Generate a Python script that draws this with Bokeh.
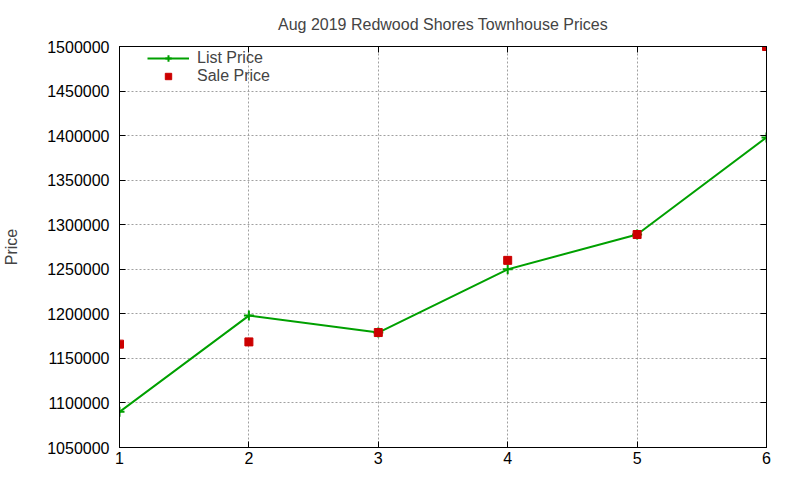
from bokeh.plotting import figure
from bokeh.models import LinearAxis, Legend, LegendItem, FixedTicker, Range1d, NumeralTickFormatter
from bokeh.embed import file_html
from bokeh.resources import INLINE

# data
list_x = [1, 2, 3, 4, 5, 6]
list_price = [1090000, 1198000, 1179000, 1250000, 1289000, 1398000]

sale_x = [1, 2, 3, 4, 5, 6]
sale_price = [1166000, 1168500, 1179000, 1260000, 1289000, 1500000]

x_ticks = [1, 2, 3, 4, 5, 6]
y_ticks = [1050000, 1100000, 1150000, 1200000, 1250000, 1300000,
           1350000, 1400000, 1450000, 1500000]

FONT = "Liberation Sans"
GREEN = "#00a000"
RED = "#cc0000"

p = figure(
    width=792, height=472,
    output_backend="svg", toolbar_location=None,
    x_range=Range1d(1, 6), y_range=Range1d(1050000, 1500000),
    min_border_left=119, min_border_right=26,
    min_border_top=45, min_border_bottom=25,
    x_axis_location=None, y_axis_location=None,
)

p.title.text = "Aug 2019 Redwood Shores Townhouse Prices"
p.title.align = "center"
p.title.text_font = FONT
p.title.text_font_size = "16px"
p.title.text_font_style = "normal"
p.title.offset = 0
p.title.standoff = 27

p.outline_line_color = "black"
p.outline_line_width = 1
p.background_fill_color = "white"
p.border_fill_color = "white"


def style_axis(ax, labels=True):
    ax.axis_line_color = "black"
    ax.major_tick_in = 6
    ax.major_tick_out = 0
    ax.minor_tick_in = 0
    ax.minor_tick_out = 0
    ax.major_tick_line_color = "black"
    ax.major_label_text_font = FONT
    ax.major_label_text_font_size = "16px"
    ax.major_label_text_color = "black"
    if not labels:
        ax.major_label_text_alpha = 0
        ax.major_label_text_font_size = "1px"
        ax.major_label_standoff = 0


bottom = LinearAxis(ticker=FixedTicker(ticks=x_ticks))
style_axis(bottom)
bottom.major_label_standoff = 4
p.add_layout(bottom, "below")

top = LinearAxis(ticker=FixedTicker(ticks=x_ticks))
style_axis(top, labels=False)
p.add_layout(top, "above")

left = LinearAxis(ticker=FixedTicker(ticks=y_ticks),
                  formatter=NumeralTickFormatter(format="0"))
style_axis(left)
left.major_label_standoff = 10
left.axis_label = "Price"
left.axis_label_text_font = FONT
left.axis_label_text_font_size = "16px"
left.axis_label_text_font_style = "normal"
left.axis_label_standoff = 24
p.add_layout(left, "left")

right = LinearAxis(ticker=FixedTicker(ticks=y_ticks))
style_axis(right, labels=False)
p.add_layout(right, "right")

p.xgrid.ticker = FixedTicker(ticks=x_ticks)
p.ygrid.ticker = FixedTicker(ticks=y_ticks)
for g in (p.xgrid, p.ygrid):
    g.grid_line_color = "#a0a0a0"
    g.grid_line_dash = "2 2"
    g.grid_line_width = 1

line = p.line(list_x, list_price, color=GREEN, line_width=2)
cross = p.scatter(list_x, list_price, marker="cross", size=10,
                  line_color=GREEN, line_width=2)
sq = p.scatter(sale_x, sale_price, marker="square", size=8,
               fill_color=RED, line_color=RED)

legend = Legend(items=[
    LegendItem(label="List Price", renderers=[line, cross]),
    LegendItem(label="Sale Price", renderers=[sq]),
])
legend.location = (26, 360)
legend.background_fill_alpha = 0
legend.border_line_alpha = 0
legend.label_text_font = FONT
legend.label_text_font_size = "16px"
legend.glyph_width = 42
legend.glyph_height = 16
legend.label_height = 16
legend.spacing = 0
legend.padding = 2
legend.margin = 0
legend.label_standoff = 8
p.add_layout(legend)

open("out.html", "w").write(file_html(p, INLINE))
